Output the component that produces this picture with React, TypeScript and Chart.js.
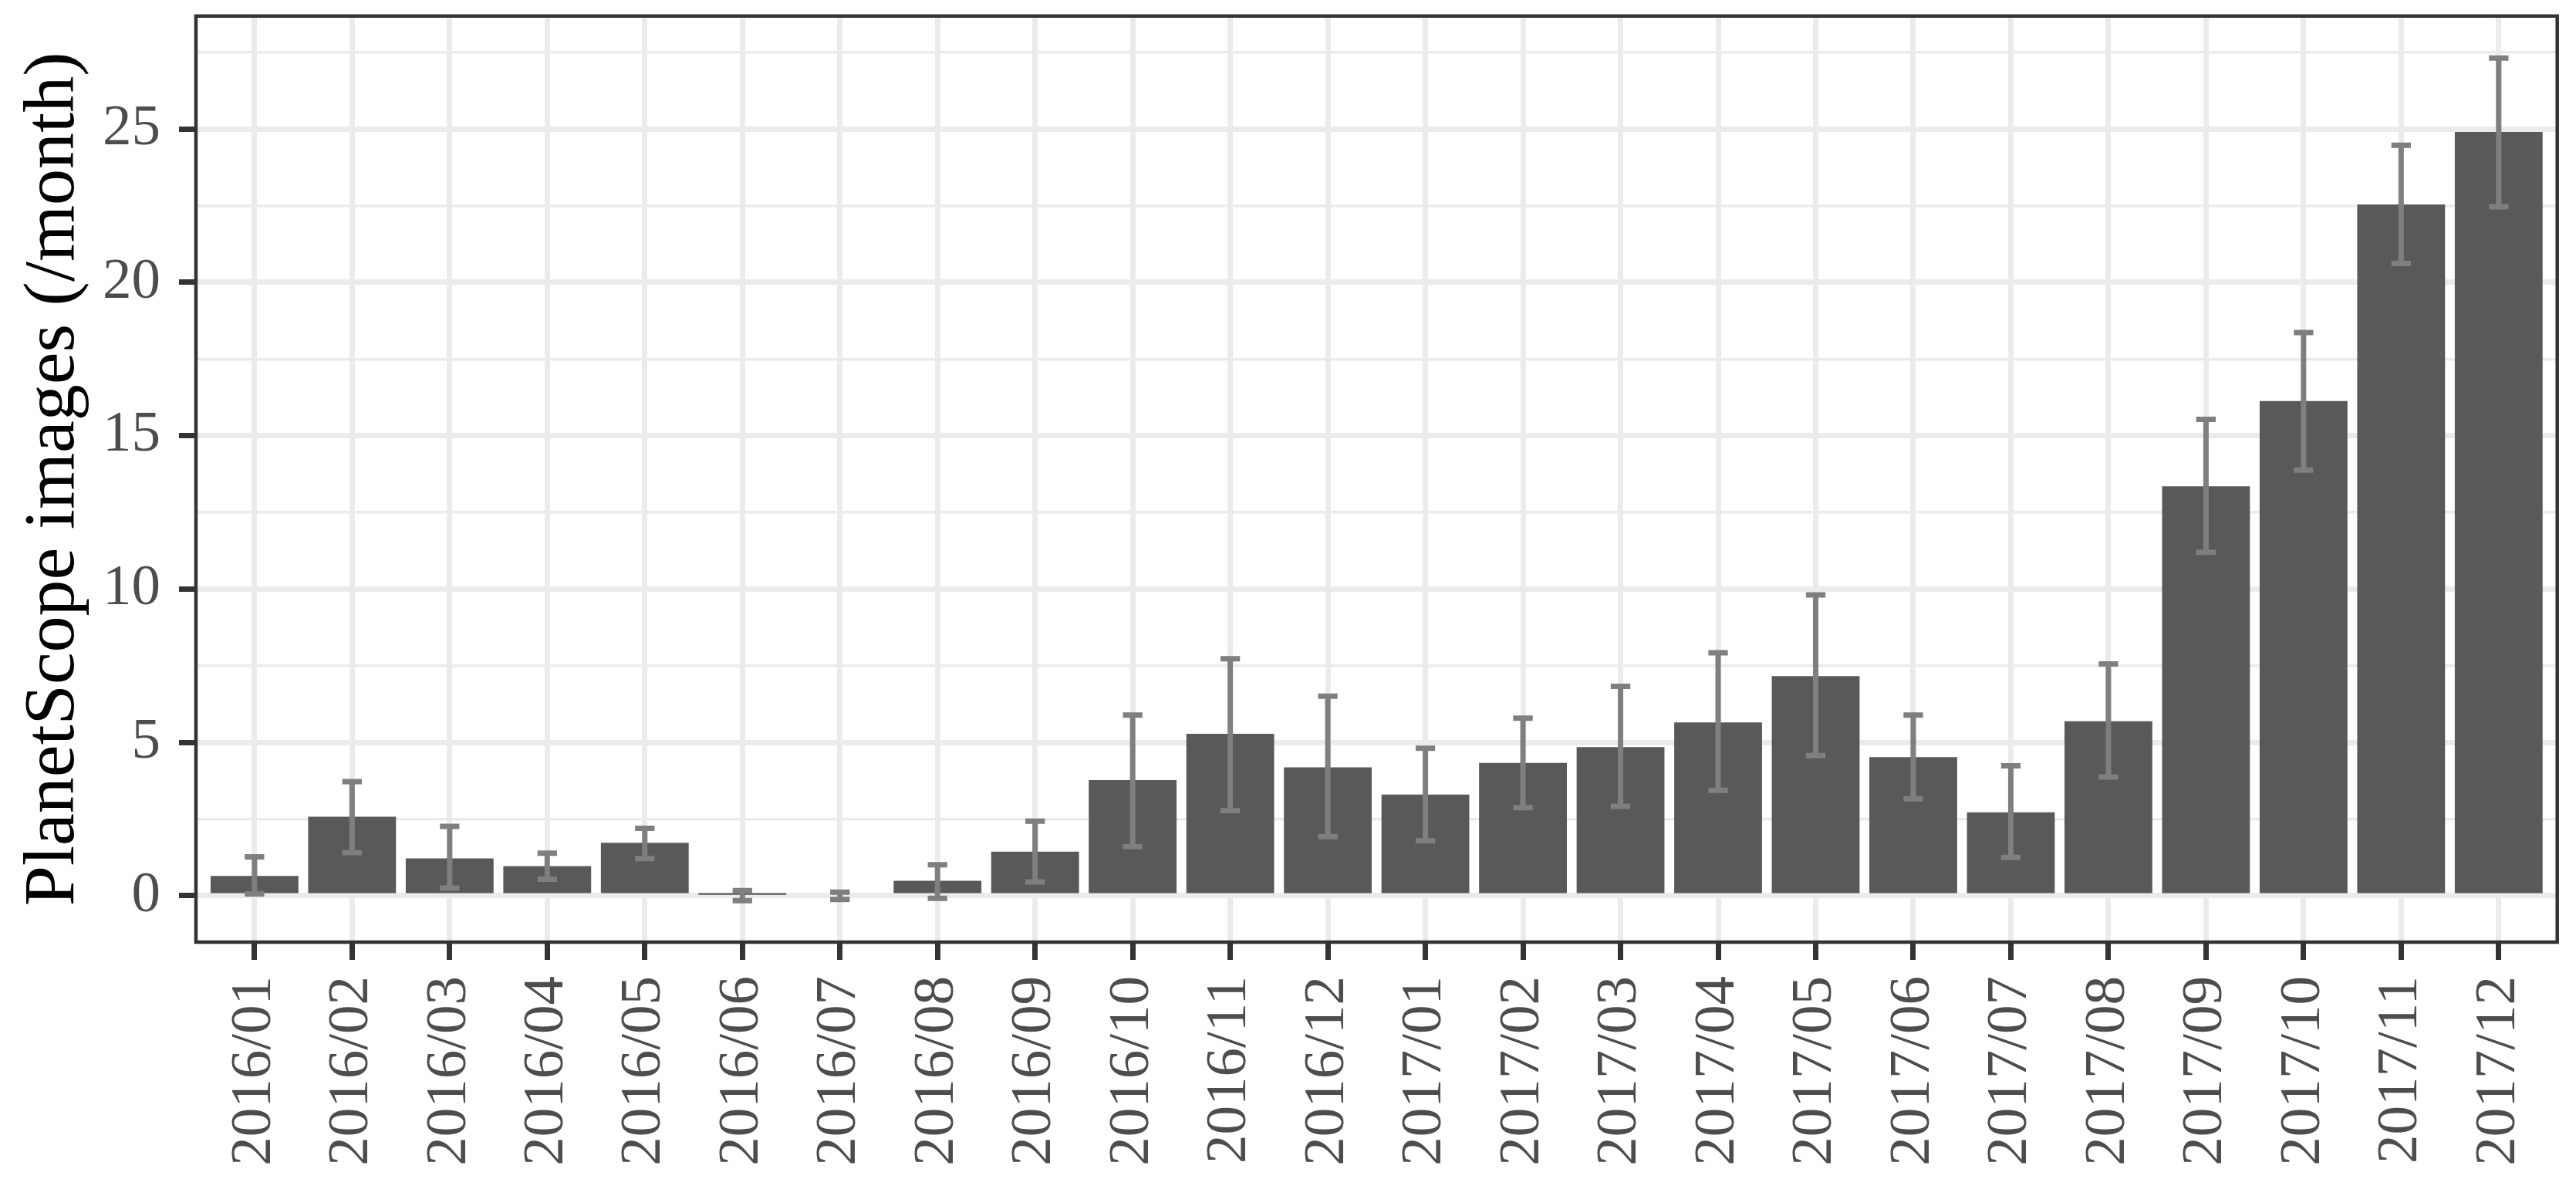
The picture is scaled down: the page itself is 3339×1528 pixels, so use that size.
import React, { useEffect, useRef } from 'react';
import { Chart, registerables } from 'chart.js';

Chart.register(...registerables);

// ---- data ----
const categories = [
  '2016/01', '2016/02', '2016/03', '2016/04', '2016/05', '2016/06',
  '2016/07', '2016/08', '2016/09', '2016/10', '2016/11', '2016/12',
  '2017/01', '2017/02', '2017/03', '2017/04', '2017/05', '2017/06',
  '2017/07', '2017/08', '2017/09', '2017/10', '2017/11', '2017/12',
];

const means = [
  0.65, 2.58, 1.22, 0.97, 1.73, 0.03,
  0.0, 0.49, 1.44, 3.77, 5.28, 4.19,
  3.3, 4.33, 4.85, 5.65, 7.16, 4.52,
  2.72, 5.69, 13.35, 16.13, 22.54, 24.9,
];

const upperBounds = [
  1.27, 3.72, 2.26, 1.39, 2.2, 0.17,
  0.12, 1.01, 2.43, 5.89, 7.73, 6.51,
  4.81, 5.79, 6.83, 7.92, 9.81, 5.89,
  4.24, 7.56, 15.53, 18.36, 24.47, 27.31,
];

const lowerBounds = [
  0.06, 1.41, 0.25, 0.54, 1.21, -0.16,
  -0.12, -0.08, 0.45, 1.6, 2.78, 1.93,
  1.79, 2.87, 2.92, 3.44, 4.57, 3.16,
  1.25, 3.87, 11.2, 13.88, 20.61, 22.46,
];

const yTickValues = [0, 2.5, 5, 7.5, 10, 12.5, 15, 17.5, 20, 22.5, 25, 27.5];
const yMajorStep = 5;
const yAxisTitle = 'PlanetScope images (/month)';

const W = 3339;
const H = 1528;

export default function App() {
  const ref = useRef<HTMLCanvasElement>(null);

  useEffect(() => {
    document.body.style.margin = '0';
    const canvas = ref.current;
    if (!canvas) return;

    const errorBarPlugin = {
      id: 'errorBars',
      afterDatasetsDraw(chart: any) {
        const { ctx } = chart;
        const xs = chart.scales.x;
        const ys = chart.scales.y;
        ctx.save();
        ctx.strokeStyle = '#7F7F7F';
        ctx.lineWidth = 7;
        ctx.lineCap = 'butt';
        categories.forEach((_, i) => {
          const cx = xs.getPixelForValue(i);
          const half = xs.getPixelForValue(i + 0.1) - cx;
          const yt = ys.getPixelForValue(upperBounds[i]);
          const yb = ys.getPixelForValue(lowerBounds[i]);
          ctx.beginPath();
          ctx.moveTo(cx - half, yt);
          ctx.lineTo(cx + half, yt);
          ctx.moveTo(cx, yt);
          ctx.lineTo(cx, yb);
          ctx.moveTo(cx - half, yb);
          ctx.lineTo(cx + half, yb);
          ctx.stroke();
        });
        ctx.restore();
      },
    };

    const borderPlugin = {
      id: 'panelBorder',
      afterDraw(chart: any) {
        const { ctx, chartArea } = chart;
        ctx.save();
        ctx.strokeStyle = '#333333';
        ctx.lineWidth = 4.5;
        ctx.strokeRect(
          chartArea.left,
          chartArea.top,
          chartArea.right - chartArea.left,
          chartArea.bottom - chartArea.top
        );
        ctx.restore();
      },
    };

    const isMajor = (v: number) => Math.abs(v / yMajorStep - Math.round(v / yMajorStep)) < 1e-6;

    const chart = new Chart(canvas, {
      type: 'bar',
      data: {
        datasets: [
          {
            data: means.map((v, i) => ({ x: i, y: v })),
            backgroundColor: '#595959',
            borderWidth: 0,
            categoryPercentage: 1,
            barPercentage: 0.9,
          } as any,
        ],
      },
      options: {
        responsive: false,
        animation: false,
        devicePixelRatio: 1,
        layout: { padding: { left: 0, top: 20.8, right: 24.3, bottom: 0 } },
        plugins: {
          legend: { display: false },
          tooltip: { enabled: false },
          title: { display: false },
        },
        scales: {
          x: {
            type: 'linear',
            min: -0.6,
            max: 23.6,
            offset: false,
            afterBuildTicks: (s: any) => {
              s.ticks = categories.map((_, i) => ({ value: i }));
            },
            afterFit: (s: any) => {
              s.height = 307;
              s.paddingLeft = 0;
              s.paddingRight = 0;
            },
            grid: {
              offset: false,
              color: '#EBEBEB',
              lineWidth: 7,
              tickLength: 23,
              tickColor: '#333333',
              tickWidth: 7,
            },
            border: { display: false },
            ticks: {
              autoSkip: false,
              minRotation: 90,
              maxRotation: 90,
              padding: 21,
              color: '#4D4D4D',
              font: { family: 'Liberation Serif', size: 75 },
              callback: (v: any) => categories[Math.round(Number(v))],
            },
          } as any,
          y: {
            type: 'linear',
            min: -1.51,
            max: 28.68,
            afterBuildTicks: (s: any) => {
              s.ticks = yTickValues.map((v) => ({ value: v }));
            },
            afterFit: (s: any) => {
              s.width = 254;
              s.paddingTop = 0;
              s.paddingBottom = 0;
            },
            grid: {
              color: '#EBEBEB',
              lineWidth: (c: any) => (c.tick && isMajor(c.tick.value) ? 7 : 3.5),
              tickLength: 22,
              tickColor: (c: any) => (c.tick && isMajor(c.tick.value) ? '#333333' : 'rgba(0,0,0,0)'),
              tickWidth: 7,
            },
            border: { display: false },
            ticks: {
              padding: 24,
              color: '#4D4D4D',
              font: { family: 'Liberation Serif', size: 75 },
              callback: (v: any) => (isMajor(Number(v)) ? String(v) : ''),
            },
            title: {
              display: true,
              text: yAxisTitle,
              color: '#000000',
              font: { family: 'Liberation Serif', size: 94 },
              padding: { top: 14, bottom: 0 },
            },
          } as any,
        },
      },
      plugins: [errorBarPlugin, borderPlugin],
    });

    return () => chart.destroy();
  }, []);

  return (
    <div style={{ position: 'fixed', left: 0, top: 0, width: W, height: H, background: '#ffffff' }}>
      <canvas ref={ref} width={W} height={H} style={{ width: W, height: H, display: 'block' }} />
    </div>
  );
}
